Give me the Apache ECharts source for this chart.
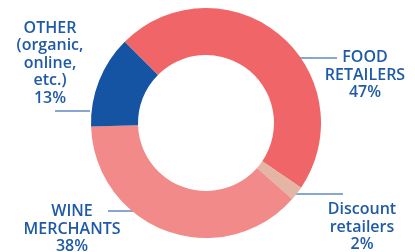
<!DOCTYPE html>
<html>
<head>
<meta charset="utf-8">
<script src="https://cdn.jsdelivr.net/npm/echarts@6/dist/echarts.min.js"></script>
<style>
  html, body { margin: 0; padding: 0; background: #fff; }
  #chart { width: 415px; height: 252px; }
</style>
</head>
<body>
<div id="chart"></div>
<script>
// shares of sales by channel
var categories = ['FOOD\nRETAILERS', 'Discount\nretailers', 'WINE\nMERCHANTS', 'OTHER\n(organic,\nonline,\netc.)'];
var shares = [47, 2, 38, 13];
var colors = ['#f06567', '#e4b5a4', '#f38a8a', '#1553a3'];

// where each label sits and where its leader line runs (label layout only)
var labelPos = [[365, 75], [362, 227], [72, 229], [50, 63]];
var linePts = [
  [[292, 58], [337, 58]],
  [[293, 194], [343, 194]],
  [[108, 211], [137, 211]],
  [[55, 111], [90, 111]]
];

window.onload = function () {
  var chart = echarts.init(document.getElementById('chart'), null, { renderer: 'canvas' });
  var data = [];
  for (var i = 0; i < shares.length; i++) {
    data.push({ name: categories[i], value: shares[i], itemStyle: { color: colors[i] } });
  }
  chart.setOption({
    animation: false,
    series: [{
      type: 'pie',
      center: [206, 123],
      radius: [68, 115],
      startAngle: 135,
      clockwise: true,
      avoidLabelOverlap: false,
      itemStyle: { borderWidth: 0 },
      label: {
        show: true,
        formatter: function (p) { return p.name + '\n' + p.value + '%'; },
        color: '#1f5aa8',
        fontFamily: 'Open Sans',
        fontWeight: 600,
        fontSize: 16,
        lineHeight: 17.5,
        align: 'center'
      },
      labelLine: {
        show: true,
        lineStyle: { color: '#5f88c4', width: 1.5 }
      },
      labelLayout: function (p) {
        var pos = labelPos[p.dataIndex];
        return {
          x: pos[0],
          y: pos[1],
          align: 'center',
          verticalAlign: 'middle',
          labelLinePoints: linePts[p.dataIndex]
        };
      },
      data: data
    }]
  });
};
</script>
</body>
</html>
